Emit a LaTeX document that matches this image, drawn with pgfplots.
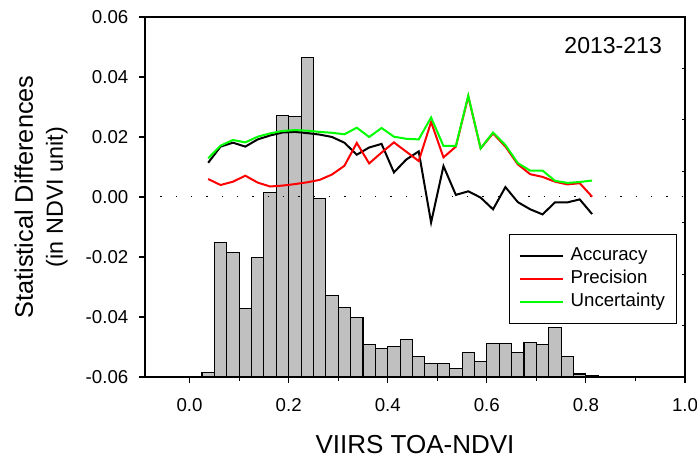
\documentclass[border=0pt]{standalone}
\usepackage{pgfplots}
\usepackage{pgfplotstable}
\pgfplotsset{compat=1.18}
\usepackage{fontspec}
\setmainfont{Liberation Sans}
\definecolor{barfill}{RGB}{192,192,192}
\definecolor{lgreen}{RGB}{0,255,0}
\definecolor{lred}{RGB}{255,0,0}

% histogram counts (scale of the right-hand axis, 0..7)
\pgfplotstableread{
x h
0.0375 0.093
0.0625 2.619
0.0875 2.415
0.1125 1.336
0.1375 2.316
0.1625 3.593
0.1875 5.081
0.2125 5.058
0.2375 6.218
0.2625 3.471
0.2875 1.593
0.3125 1.353
0.3375 1.161
0.3625 0.636
0.3875 0.548
0.4125 0.595
0.4375 0.735
0.4625 0.397
0.4875 0.257
0.5125 0.257
0.5375 0.158
0.5625 0.473
0.5875 0.298
0.6125 0.648
0.6375 0.648
0.6625 0.473
0.6875 0.677
0.7125 0.636
0.7375 0.957
0.7625 0.397
0.7875 0.058
0.8125 0.035
}\histtab

% statistics per bin
\pgfplotstableread{
x acc prec unc
0.0375 0.0114 0.0060 0.0129
0.0625 0.0168 0.0040 0.0171
0.0875 0.0181 0.0051 0.0190
0.1125 0.0168 0.0071 0.0182
0.1375 0.0192 0.0048 0.0201
0.1625 0.0205 0.0035 0.0212
0.1875 0.0215 0.0038 0.0220
0.2125 0.0217 0.0043 0.0223
0.2375 0.0213 0.0049 0.0221
0.2625 0.0208 0.0057 0.0217
0.2875 0.0200 0.0075 0.0214
0.3125 0.0181 0.0104 0.0209
0.3375 0.0141 0.0180 0.0231
0.3625 0.0165 0.0112 0.0200
0.3875 0.0177 0.0148 0.0230
0.4125 0.0082 0.0182 0.0201
0.4375 0.0125 0.0151 0.0194
0.4625 0.0152 0.0120 0.0192
0.4875 -0.0085 0.0250 0.0265
0.5125 0.0103 0.0132 0.0170
0.5375 0.0007 0.0168 0.0170
0.5625 0.0019 0.0335 0.0338
0.5875 -0.0002 0.0162 0.0162
0.6125 -0.0041 0.0212 0.0215
0.6375 0.0033 0.0168 0.0173
0.6625 -0.0017 0.0109 0.0113
0.6875 -0.0041 0.0076 0.0088
0.7125 -0.0058 0.0067 0.0088
0.7375 -0.0018 0.0051 0.0054
0.7625 -0.0018 0.0042 0.0047
0.7875 -0.0008 0.0046 0.0050
0.8125 -0.0057 0.0001 0.0055
}\stattab

\begin{document}
\begin{tikzpicture}
\path[use as bounding box] (-108.75pt,-60.75pt) rectangle (414pt,282.75pt);

% histogram with its own count axis on the right
\begin{axis}[
  scale only axis, width=405pt, height=270pt,
  xmin=-0.09, xmax=1.0, ymin=0, ymax=7,
  axis x line=none, axis y line*=right,
  ytick={0,1,2,3,4,5,6,7}, yticklabels={},
  tick align=inside, major tick length=2.5pt,
  axis line style={line width=0.8pt},
  every tick/.style={black, line width=0.8pt},
]
\addplot[ybar, bar width=0.025, bar shift=0pt, fill=barfill, draw=black, line width=0.8pt]
  table[x=x, y=h] {\histtab};
\end{axis}

\begin{axis}[
  scale only axis, width=405pt, height=270pt,
  xmin=-0.09, xmax=1.0, ymin=-0.06, ymax=0.06,
  xtick={0,0.2,0.4,0.6,0.8,1}, minor xtick={0.1,0.3,0.5,0.7,0.9},
  ytick={-0.06,-0.04,-0.02,0,0.02,0.04,0.06},
  xtick pos=lower, ytick pos=left, tick align=outside,
  major tick length=4.5pt, minor tick length=3pt,
  axis line style={line width=0.8pt},
  every tick/.style={black, line width=0.8pt},
  scaled y ticks=false,
  /pgf/number format/assume math mode=true,
  tick label style={font=\fontsize{14}{16}\selectfont},
  xticklabel style={/pgf/number format/.cd, fixed, fixed zerofill, precision=1, /tikz/.cd, yshift=-8pt},
  yticklabel style={/pgf/number format/.cd, fixed, fixed zerofill, precision=2, /tikz/.cd, xshift=-4.5pt},
  xlabel={VIIRS TOA-NDVI},
  xlabel style={font=\fontsize{19.5}{22}\selectfont, at={(axis description cs:0.5,0)}, anchor=base, yshift=-57pt},
  ylabel={Statistical Differences\\{\fontsize{17.5}{21}\selectfont (in NDVI unit)}},
  ylabel style={font=\fontsize{19}{22.5}\selectfont, align=center, at={(axis description cs:-0.1926,0.5)}, anchor=center, rotate=0},
  legend style={at={(0.985,0.397)}, anchor=north east, draw=black, line width=0.75pt,
    font=\fontsize{14}{16}\selectfont, inner xsep=6.5pt, inner ysep=8pt, row sep=1.25pt,
    nodes={inner xsep=2pt, inner ysep=1.5pt, text height=10pt, text depth=3pt},
    /tikz/every odd column/.append style={column sep=3pt}},
  legend cell align=left,
  legend image code/.code={\draw[#1] (0pt,0pt) -- (32.5pt,0pt);},
]
\addplot[black, line width=0.75pt, dash pattern=on 0.9pt off 10.6pt, forget plot]
  coordinates {(-0.09,0) (1.0,0)};
\addplot[black, line width=1.5pt] table[x=x, y=acc] {\stattab};
\addlegendentry{Accuracy}
\addplot[lred, line width=1.5pt] table[x=x, y=prec] {\stattab};
\addlegendentry{Precision}
\addplot[lgreen, line width=1.5pt] table[x=x, y=unc] {\stattab};
\addlegendentry{Uncertainty}
\node[font=\fontsize{17.3}{20}\selectfont] at (rel axis cs:0.867,0.922) {2013-213};
\end{axis}
\end{tikzpicture}
\end{document}
